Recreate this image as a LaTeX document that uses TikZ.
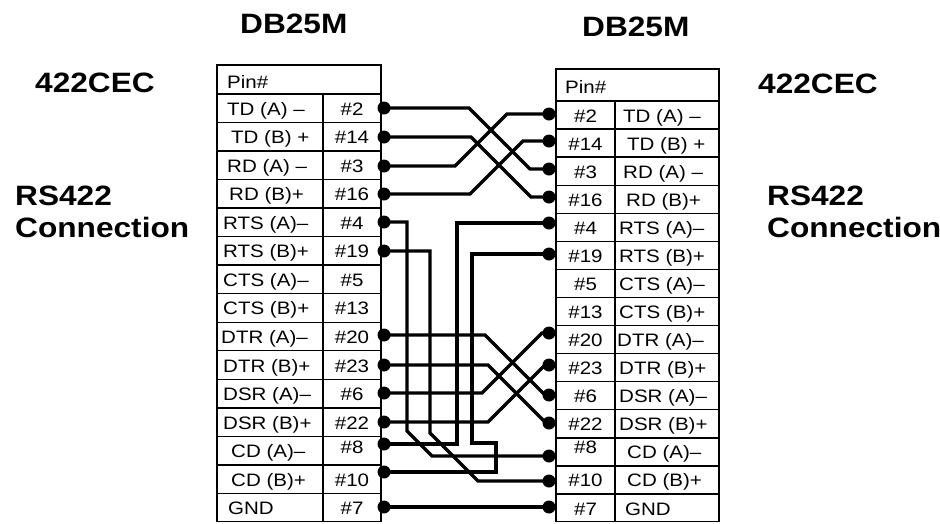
\documentclass[tikz,border=0pt]{standalone}
\usepackage{fontspec}
\usepackage{graphicx}
\setmainfont{Liberation Sans}
\newcommand{\wtxt}[1]{\scalebox{1.14}[1]{#1}}
\newcommand{\wttl}[1]{\scalebox{1.13}[1]{#1}}
\begin{document}
\begin{tikzpicture}[x=1pt,y=-1pt,
  tbl/.style={line width=1.4pt},
  wire/.style={line width=3.3pt, line join=miter},
  lbl/.style={anchor=base west, inner sep=0pt, font=\fontsize{18}{18}\selectfont},
  pinlbl/.style={anchor=base, inner sep=0pt, font=\fontsize{18}{18}\selectfont},
  ttl/.style={anchor=base west, inner sep=0pt, font=\fontsize{28}{28}\selectfont\bfseries},
  dot/.style={fill=black}
]
\useasboundingbox (0,0) rectangle (940,523);

% titles
\node[ttl] (dbl) at (240,33) {\wttl{DB25M}};
\node[ttl] (dbr) at (582,36) {\wttl{DB25M}};
\node[ttl] (cecl) at (35,92) {\wttl{422CEC}};
\node[ttl] (cecr) at (758,93) {\wttl{422CEC}};
\node[ttl] (rsl) at (15,205) {\wttl{RS422}};
\node[ttl] (rsr) at (767,205) {\wttl{RS422}};
\node[ttl] (conl) at (15,237) {\wttl{Connection}};
\node[ttl] (conr) at (767,237) {\wttl{Connection}};

% left table
\draw[tbl] (217,65) rectangle (381,521.5);
\draw[tbl] (323,94) -- (323,521.5);
\foreach \k in {0,...,14} \draw[tbl] (217,{94+28.53*\k}) -- (381,{94+28.53*\k});
\node[lbl] (lpin) at (227,88) {\wtxt{Pin\#}};
\foreach \lab/\num/\off/\dy [count=\i from 0] in
  {{TD (A) –}/2/10/0, {TD (B) +}/14/14/0, {RD (A) –}/3/10/0, {RD (B)+}/16/12/0,
   {RTS (A)–}/4/6/0, {RTS (B)+}/19/6/0, {CTS (A)–}/5/6/0, {CTS (B)+}/13/6/0,
   {DTR (A)–}/20/4/0, {DTR (B)+}/23/6/0, {DSR (A)–}/6/6/0, {DSR (B)+}/22/6/0,
   {CD (A)–}/8/14/-4, {CD (B)+}/10/14/0, {GND}/7/11/0}
{
  \node[lbl] (Ll\i) at ({217+\off},{94+28.53*(\i+0.5)+7}) {\wtxt{\lab}};
  \node[pinlbl] (Lp\i) at (352,{94+28.53*(\i+0.5)+7+\dy}) {\wtxt{\#\num}};
}

% right table
\draw[tbl] (556,69) rectangle (719,521.5);
\draw[tbl] (615,101) -- (615,521.5);
\foreach \k in {0,...,14} \draw[tbl] (556,{101+28.07*\k}) -- (719,{101+28.07*\k});
\node[lbl] (rpin) at (565,93) {\wtxt{Pin\#}};
\foreach \lab/\num/\off/\dy [count=\i from 0] in
  {{TD (A) –}/2/8/0, {TD (B) +}/14/12/0, {RD (A) –}/3/8/0, {RD (B)+}/16/11/0,
   {RTS (A)–}/4/4/0, {RTS (B)+}/19/4/0, {CTS (A)–}/5/4/0, {CTS (B)+}/13/4/0,
   {DTR (A)–}/20/2/0, {DTR (B)+}/23/4/0, {DSR (A)–}/6/4/0, {DSR (B)+}/22/4/0,
   {CD (A)–}/8/12/-5, {CD (B)+}/10/12/0, {GND}/7/10/0}
{
  \node[lbl] (Rl\i) at ({615+\off},{101+28.07*(\i+0.5)+7}) {\wtxt{\lab}};
  \node[pinlbl] (Rp\i) at (585.5,{101+28.07*(\i+0.5)+7+\dy}) {\wtxt{\#\num}};
}

% wire end points
\coordinate (L2) at (384,108);  \coordinate (L14) at (384,137);
\coordinate (L3) at (384,166);  \coordinate (L16) at (384,194);
\coordinate (L4) at (384,222);  \coordinate (L19) at (384,251);
\coordinate (L20) at (384,335); \coordinate (L23) at (384,365);
\coordinate (L6) at (384,393);  \coordinate (L22) at (384,422);
\coordinate (L8) at (384,444);  \coordinate (L10) at (384,472);
\coordinate (L7) at (384,507);
\coordinate (R2) at (549,114);  \coordinate (R14) at (549,141);
\coordinate (R3) at (549,169);  \coordinate (R16) at (549,197);
\coordinate (R4) at (549,223);  \coordinate (R19) at (549,254);
\coordinate (R20) at (549,333); \coordinate (R23) at (549,365);
\coordinate (R6) at (549,395);  \coordinate (R22) at (549,423);
\coordinate (R8) at (549,456);  \coordinate (R10) at (549,481);
\coordinate (R7) at (549,507);

% wires
\draw[wire] (L2) -- (469,108) -- (530,169) -- (R3) -- ++(7,0);
\draw[wire] (L14) -- (471,137) -- (531,197) -- (R16) -- ++(7,0);
\draw[wire] (L3) -- (455,166) -- (507,114) -- (R2) -- ++(7,0);
\draw[wire] (L16) -- (470,194) -- (523,141) -- (R14) -- ++(7,0);
\draw[wire] (L4) -- (407,222) -- (407,431) -- (432,456) -- (R8) -- ++(7,0);
\draw[wire] (L19) -- (430,251) -- (430,433) -- (478,481) -- (R10) -- ++(7,0);
\draw[wire] (R4) ++(7,0) -- (R4) -- (457,223) -- (457,444) -- (L8);
\draw[wire] (R19) ++(7,0) -- (R19) -- (472,254) -- (472,443) -- (496,443) -- (496,472) -- (L10);
\draw[wire] (L20) -- (485,335) -- (545,395) -- (R6) -- ++(7,0);
\draw[wire] (L23) -- (488,365) -- (546,423) -- (R22) -- ++(7,0);
\draw[wire] (L6) -- (482,393) -- (542,333) -- (R20) -- ++(7,0);
\draw[wire] (L22) -- (488,422) -- (545,365) -- (R23) -- ++(7,0);
\draw[wire] (L7) -- (R7) -- ++(7,0);

% dots
\foreach \p in {L2,L14,L3,L16,L4,L19,L20,L23,L6,L22,L8,L10,L7,
                R2,R14,R3,R16,R4,R19,R20,R23,R6,R22,R8,R10,R7}
  \fill[dot] (\p) circle (6.5);
\end{tikzpicture}
\end{document}
